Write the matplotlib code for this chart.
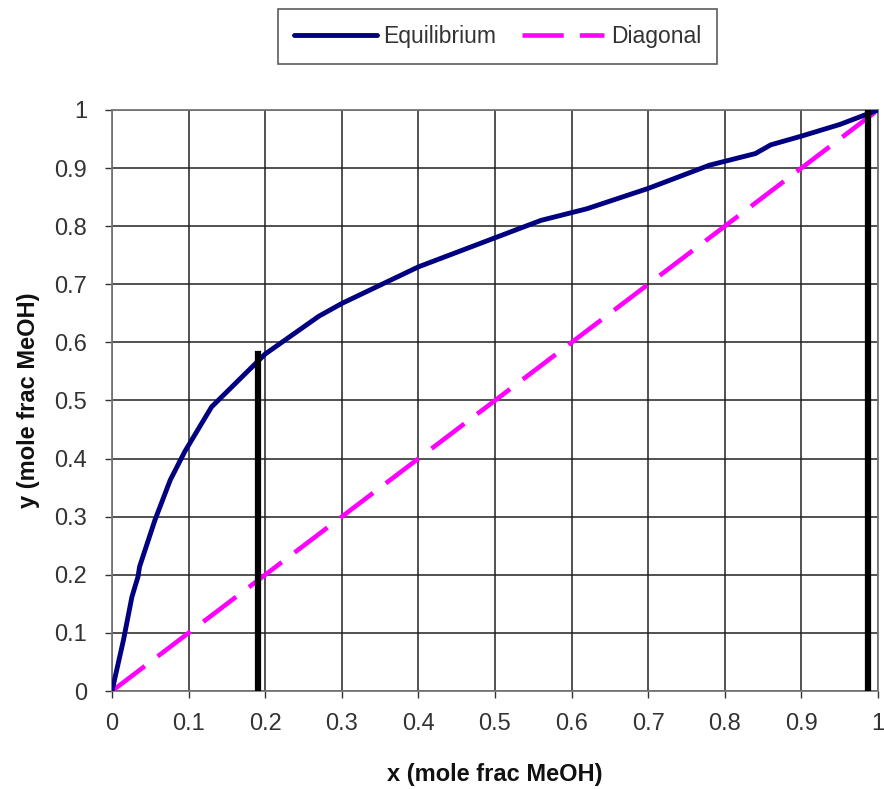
import matplotlib
matplotlib.use("Agg")
import matplotlib.pyplot as plt
from matplotlib.ticker import MultipleLocator

# equilibrium curve, methanol-water
x_eq = [0.0, 0.015, 0.026, 0.034, 0.036, 0.056, 0.076, 0.095, 0.13, 0.2, 0.27,
        0.3, 0.4, 0.5, 0.56, 0.62, 0.7, 0.78, 0.84, 0.86, 0.9, 0.95, 1.0]
y_eq = [0.0, 0.088, 0.162, 0.197, 0.214, 0.294, 0.363, 0.412, 0.489, 0.58, 0.645,
        0.667, 0.73, 0.78, 0.81, 0.83, 0.865, 0.905, 0.925, 0.94, 0.955, 0.975, 1.0]

x_diag = [0.0, 1.0]
y_diag = [0.0, 1.0]

# feed / distillate verticals
x_bot = [0.19, 0.19]
y_bot = [0.0, 0.58]
x_top = [0.987, 0.987]
y_top = [0.0, 0.996]

plt.rcParams['font.family'] = ['Liberation Sans', 'DejaVu Sans']

fig = plt.figure(figsize=(8.84, 7.89), dpi=100)
ax = fig.add_axes([0.1267, 0.1242, 0.8665, 0.7364])

ax.plot(x_eq, y_eq, color='#000080', lw=3.5, label='Equilibrium', zorder=4,
        solid_capstyle='round', solid_joinstyle='round')
ax.plot(x_diag, y_diag, color='#ff00ff', lw=3.3, dashes=(9, 3.5), label='Diagonal',
        zorder=3)
ax.plot(x_bot, y_bot, color='black', lw=4.5, zorder=5)
ax.plot(x_top, y_top, color='black', lw=4.5, zorder=5)

ax.set_xlim(0, 1)
ax.set_ylim(0, 1)
ax.xaxis.set_major_locator(MultipleLocator(0.1))
ax.yaxis.set_major_locator(MultipleLocator(0.1))
ax.xaxis.set_major_formatter(lambda v, p: '%g' % round(v, 1))
ax.yaxis.set_major_formatter(lambda v, p: '%g' % round(v, 1))
ax.grid(True, color='#222222', lw=1.1)
ax.set_axisbelow(True)
for s in ax.spines.values():
    s.set_color('#777777')
    s.set_linewidth(1.3)
ax.tick_params(direction='out', length=5, width=1, color='#333333',
               labelsize=17, labelcolor='#333333')
ax.tick_params(axis='x', pad=11)
ax.tick_params(axis='y', pad=13)

ax.set_xlabel('x (mole frac MeOH)', fontsize=17, fontweight='bold', labelpad=20,
              color='#111111')
ax.set_ylabel('y (mole frac MeOH)', fontsize=17, fontweight='bold', labelpad=10,
              color='#111111')

leg = fig.legend(loc='center', bbox_to_anchor=(0.563, 0.954), ncol=2,
                 fontsize=16.5, frameon=True, fancybox=False, edgecolor='#333333',
                 handlelength=3.6, columnspacing=1.1, borderpad=0.7,
                 handletextpad=0.3)
leg.get_frame().set_linewidth(1.2)
for t in leg.get_texts():
    t.set_color('#333333')

fig.savefig('out.png', dpi=100)
